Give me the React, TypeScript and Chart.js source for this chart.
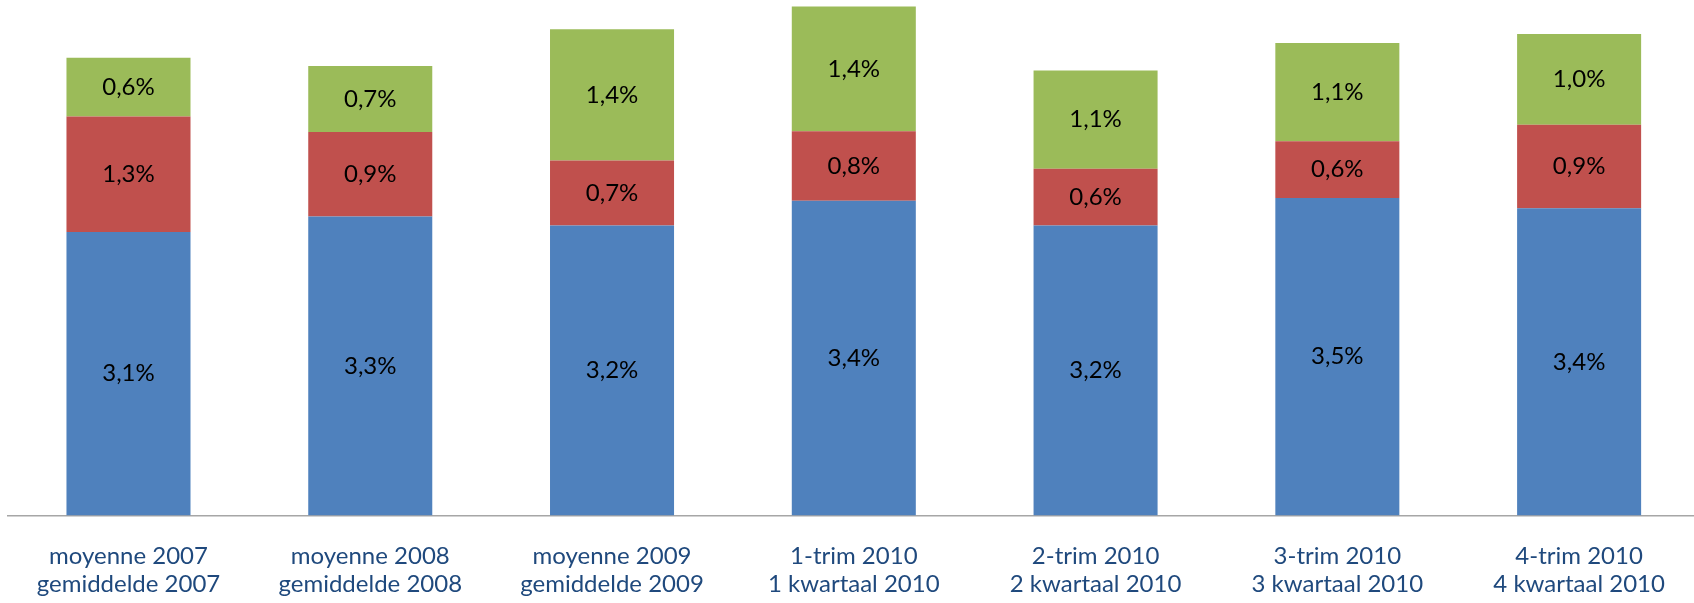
import React, { useEffect, useRef } from "react";
import { Chart, registerables } from "chart.js";

Chart.register(...registerables);

const categories: string[][] = [
  ["moyenne 2007", "gemiddelde 2007"],
  ["moyenne 2008", "gemiddelde 2008"],
  ["moyenne 2009", "gemiddelde 2009"],
  ["1-trim 2010", "1 kwartaal 2010"],
  ["2-trim 2010", "2 kwartaal 2010"],
  ["3-trim 2010", "3 kwartaal 2010"],
  ["4-trim 2010", "4 kwartaal 2010"],
];

const blueValues = [3.09, 3.26, 3.16, 3.43, 3.16, 3.46, 3.35];
const redValues = [1.26, 0.92, 0.71, 0.76, 0.62, 0.62, 0.91];
const greenValues = [0.64, 0.72, 1.43, 1.36, 1.07, 1.07, 0.99];

const FONT = "Lato, 'Open Sans', sans-serif";

const fmt = (v: number) => v.toFixed(1).replace(".", ",") + "%";

const segmentLabels = {
  id: "segmentLabels",
  afterDatasetsDraw(chart: any) {
    const ctx = chart.ctx;
    ctx.save();
    ctx.font = `24px ${FONT}`;
    ctx.fillStyle = "#000000";
    ctx.textAlign = "center";
    ctx.textBaseline = "middle";
    chart.data.datasets.forEach((ds: any, i: number) => {
      const meta = chart.getDatasetMeta(i);
      meta.data.forEach((el: any, j: number) => {
        const p = el.getProps(["x", "y", "base"], true);
        ctx.fillText(fmt(ds.data[j]), p.x, (p.y + p.base) / 2);
      });
    });
    ctx.restore();
  },
};

export default function App() {
  const ref = useRef<HTMLCanvasElement>(null);

  useEffect(() => {
    document.body.style.overflow = "hidden";
    const chart = new Chart(ref.current!, {
      type: "bar",
      data: {
        labels: categories,
        datasets: [
          { data: blueValues, backgroundColor: "#4F81BD" },
          { data: redValues, backgroundColor: "#C0504D" },
          { data: greenValues, backgroundColor: "#9BBB59" },
        ],
      },
      options: {
        animation: false,
        responsive: false,
        layout: { padding: { left: 7.6, right: 0, top: 0, bottom: 4 } },
        datasets: {
          bar: { categoryPercentage: 1, barPercentage: 0.513 },
        },
        plugins: {
          legend: { display: false },
          tooltip: { enabled: false },
        },
        scales: {
          x: {
            stacked: true,
            grid: { display: false, drawTicks: false },
            border: { display: true, color: "#A6A6A6", width: 1.5 },
            ticks: {
              color: "#1F497D",
              font: { family: FONT, size: 24, lineHeight: 1.2 },
              padding: 26,
              maxRotation: 0,
              autoSkip: false,
            },
          },
          y: {
            stacked: true,
            display: false,
            min: 0,
            max: 5.62,
          },
        },
      },
      plugins: [segmentLabels],
    });
    return () => chart.destroy();
  }, []);

  return (
    <div
      style={{
        position: "fixed",
        left: 0,
        top: 0,
        width: 1694,
        height: 603,
        overflow: "hidden",
        background: "#ffffff",
      }}
    >
      <canvas ref={ref} width={1700} height={629} style={{ display: "block" }} />
    </div>
  );
}
